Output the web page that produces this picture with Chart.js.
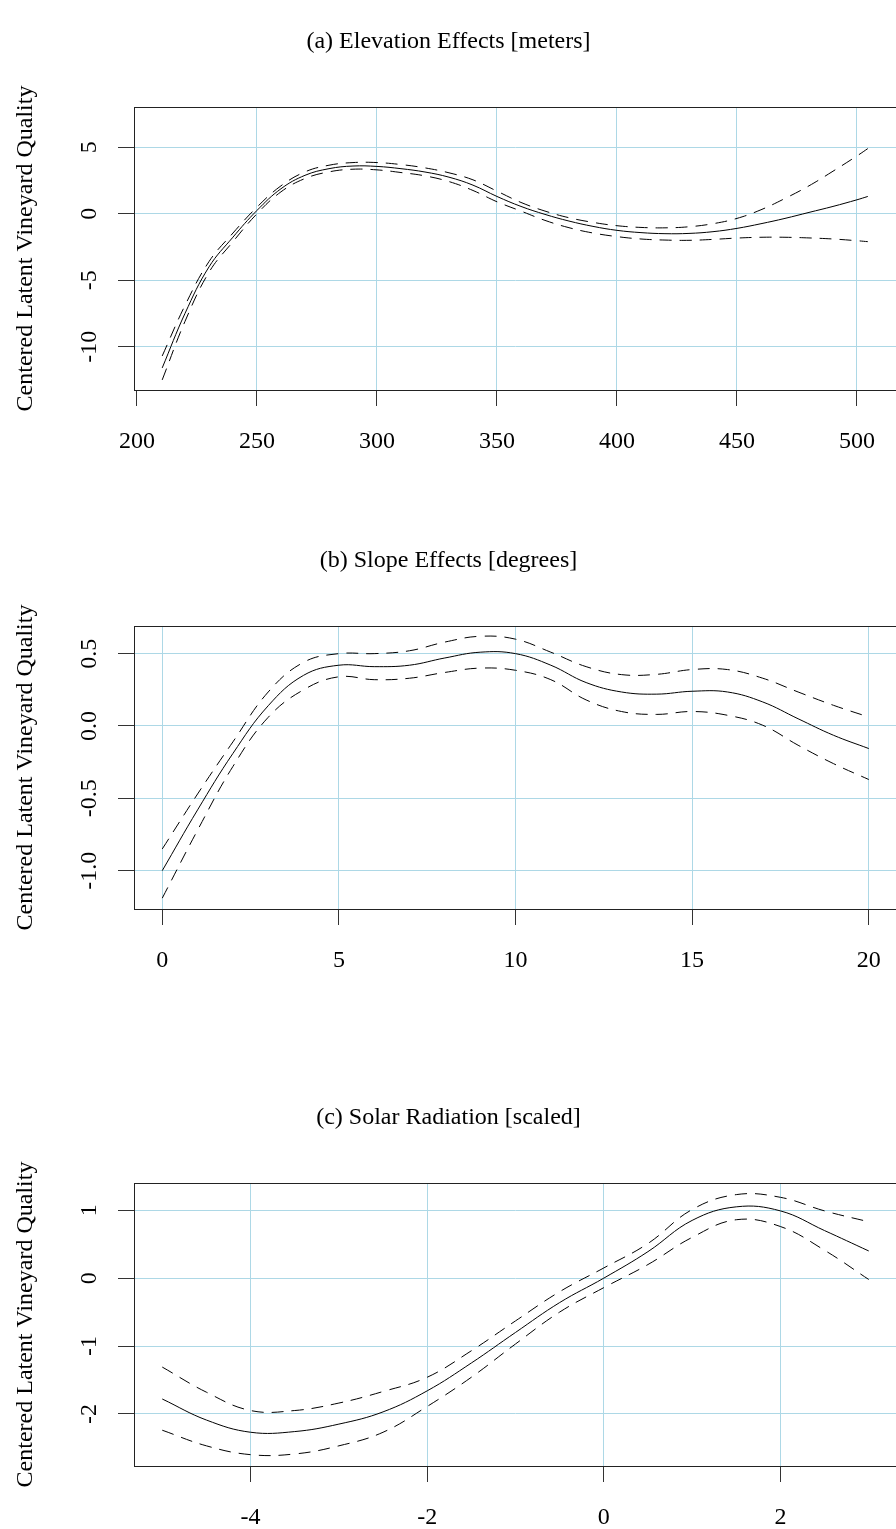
<!DOCTYPE html>
<html>
<head>
<meta charset="utf-8">
<script src="https://cdn.jsdelivr.net/npm/chart.js@4"></script>
<style>
  html, body { margin: 0; padding: 0; background: #fff; overflow: hidden; }
  body { width: 896px; height: 1529px; position: relative; }
  canvas { position: absolute; left: 0; }
</style>
</head>
<body>
<canvas id="elevChart" width="912" height="433" style="top:27px"></canvas>
<canvas id="slopeChart" width="912" height="433" style="top:546px"></canvas>
<canvas id="solarChart" width="912" height="433" style="top:1103px"></canvas>
<script>
// --- Elevation (meters) ---
const elevX = [210.5, 220, 230, 240, 250, 260, 270, 280, 290, 300, 310, 320, 330, 340, 350,
               360, 370, 380, 390, 400, 410, 420, 430, 440, 450, 460, 470, 480, 490, 500, 504.5];
const elevFit = [-11.6, -7.5, -4.0, -1.76, 0.25, 1.88, 2.89, 3.39, 3.59, 3.56, 3.39, 3.14, 2.75, 2.15, 1.3,
                 0.55, -0.05, -0.55, -0.95, -1.25, -1.42, -1.5, -1.48, -1.35, -1.1, -0.75, -0.35, 0.1, 0.55, 1.05, 1.3];
const elevUpper = [-10.7, -6.9, -3.6, -1.45, 0.5, 2.1, 3.15, 3.65, 3.85, 3.85, 3.7, 3.45, 3.08, 2.55, 1.7,
                   0.85, 0.2, -0.3, -0.65, -0.9, -1.03, -1.06, -0.98, -0.75, -0.35, 0.3, 1.15, 2.1, 3.2, 4.35, 4.9];
const elevLower = [-12.5, -8.1, -4.4, -2.1, 0.0, 1.65, 2.65, 3.15, 3.35, 3.3, 3.1, 2.85, 2.42, 1.75, 0.9,
                   0.2, -0.5, -1.05, -1.45, -1.72, -1.9, -1.98, -2.0, -1.93, -1.83, -1.77, -1.77, -1.82, -1.9, -2.03, -2.1];
const elevXTicks = [200, 250, 300, 350, 400, 450, 500];
const elevXLabels = ['200', '250', '300', '350', '400', '450', '500'];
const elevXGrid = [250, 300, 350, 400, 450, 500];
const elevYTicks = [-10, -5, 0, 5];
const elevYLabels = ['-10', '-5', '0', '5'];

// --- Slope (degrees) ---
const slopeX = [0, 1, 2, 3, 4, 5, 6, 7, 8, 9, 10, 11, 12, 13, 14, 15, 16, 17, 18, 19, 20];
const slopeFit = [-1.0, -0.58, -0.19, 0.14, 0.35, 0.42, 0.41, 0.42, 0.47, 0.51, 0.50,
                  0.42, 0.30, 0.235, 0.22, 0.24, 0.235, 0.166, 0.05, -0.064, -0.156];
const slopeUpper = [-0.85, -0.47, -0.11, 0.235, 0.44, 0.50, 0.50, 0.52, 0.58, 0.62, 0.60,
                    0.51, 0.41, 0.355, 0.357, 0.39, 0.39, 0.33, 0.235, 0.143, 0.062];
const slopeLower = [-1.19, -0.72, -0.28, 0.06, 0.25, 0.34, 0.32, 0.33, 0.37, 0.40, 0.385,
                    0.32, 0.18, 0.10, 0.08, 0.10, 0.074, 0.005, -0.133, -0.26, -0.37];
const slopeXTicks = [0, 5, 10, 15, 20];
const slopeXLabels = ['0', '5', '10', '15', '20'];
const slopeXGrid = [0, 5, 10, 15, 20];
const slopeYTicks = [-1.0, -0.5, 0.0, 0.5];
const slopeYLabels = ['-1.0', '-0.5', '0.0', '0.5'];

// --- Solar radiation (scaled) ---
const solarX = [-5, -4.5, -4, -3.5, -3, -2.5, -2, -1.5, -1, -0.5, 0, 0.5, 1, 1.5, 2, 2.5, 3];
const solarFit = [-1.78, -2.09, -2.27, -2.26, -2.15, -1.97, -1.66, -1.25, -0.8, -0.36, 0.0, 0.39, 0.85, 1.05, 0.99, 0.70, 0.40];
const solarUpper = [-1.31, -1.68, -1.95, -1.95, -1.84, -1.67, -1.46, -1.07, -0.63, -0.2, 0.15, 0.51, 1.01, 1.23, 1.19, 0.99, 0.83];
const solarLower = [-2.24, -2.47, -2.60, -2.59, -2.47, -2.27, -1.89, -1.46, -0.97, -0.5, -0.14, 0.2, 0.6, 0.86, 0.76, 0.41, -0.02];
const solarXTicks = [-4, -2, 0, 2];
const solarXLabels = ['-4', '-2', '0', '2'];
const solarXGrid = [-4, -2, 0, 2];
const solarYTicks = [-2, -1, 0, 1];
const solarYLabels = ['-2', '-1', '0', '1'];

const yTitle = 'Centered Latent Vineyard Quality';
const SERIF = "'Liberation Serif', 'Times New Roman', serif";
const GRID = '#add8e6';

Chart.defaults.font.family = SERIF;
Chart.defaults.font.size = 24;
Chart.defaults.color = '#000';

// box around the plot region + rotated y tick labels and y title
const framePlugin = {
    id: 'frame',
    afterDatasetsDraw(chart) {
        const { ctx, chartArea: a } = chart;
        ctx.save();
        ctx.strokeStyle = '#222';
        ctx.lineWidth = 1;
        ctx.strokeRect(Math.round(a.left) + 0.5, Math.round(a.top) + 0.5,
                       Math.round(a.right - a.left), Math.round(a.bottom - a.top));
        ctx.restore();
    },
    afterDraw(chart, args, opts) {
        const { ctx, chartArea: a } = chart;
        const y = chart.scales.y;
        ctx.save();
        ctx.fillStyle = '#000';
        ctx.font = '24px ' + SERIF;
        ctx.textAlign = 'center';
        ctx.textBaseline = 'alphabetic';
        opts.ticks.forEach((v, i) => {
            ctx.save();
            ctx.translate(96, y.getPixelForValue(v));
            ctx.rotate(-Math.PI / 2);
            ctx.fillText(opts.labels[i], 0, 0);
            ctx.restore();
        });
        ctx.translate(32, (a.top + a.bottom) / 2);
        ctx.rotate(-Math.PI / 2);
        ctx.fillText(yTitle, 0, 0);
        ctx.restore();
    }
};

function curve(xs, ys, dashed) {
    return {
        data: xs.map((x, i) => ({ x: x, y: ys[i] })),
        borderColor: '#000',
        borderWidth: 1,
        borderDash: dashed ? [12, 8] : [],
        pointRadius: 0,
        fill: false,
        tension: 0.4
    };
}

function makePanel(id, title, p) {
    return new Chart(document.getElementById(id), {
        type: 'line',
        data: {
            datasets: [
                curve(p.x, p.upper, true),
                curve(p.x, p.lower, true),
                curve(p.x, p.fit, false)
            ]
        },
        options: {
            responsive: false,
            animation: false,
            devicePixelRatio: 1,
            layout: { padding: { left: 0, right: 15, top: 0, bottom: 0 } },
            plugins: {
                legend: { display: false },
                tooltip: { enabled: false },
                title: {
                    display: true,
                    text: title,
                    color: '#000',
                    font: { family: SERIF, size: 24, weight: 'normal', lineHeight: 1.2 },
                    padding: { top: 0, bottom: 51.2 }
                },
                frame: { ticks: p.yTicks, labels: p.yLabels }
            },
            scales: {
                x: {
                    type: 'linear',
                    min: p.xMin, max: p.xMax,
                    afterBuildTicks: s => { s.ticks = p.xTicks.map(v => ({ value: v })); },
                    afterFit: s => { s.height = 70; },
                    border: { display: false },
                    grid: {
                        color: c => p.xGrid.includes(c.tick && c.tick.value) ? GRID : 'rgba(0,0,0,0)',
                        lineWidth: 1, tickLength: 16, tickColor: '#333', tickWidth: 1
                    },
                    ticks: {
                        padding: 21,
                        maxRotation: 0,
                        autoSkip: false,
                        color: '#000',
                        callback: (v, i) => p.xLabels[i]
                    }
                },
                y: {
                    type: 'linear',
                    min: p.yMin, max: p.yMax,
                    afterBuildTicks: s => { s.ticks = p.yTicks.map(v => ({ value: v })); },
                    afterFit: s => { s.width = 134; },
                    border: { display: false },
                    grid: { color: GRID, lineWidth: 1, tickLength: 16, tickColor: '#333', tickWidth: 1 },
                    ticks: { display: false }
                }
            }
        },
        plugins: [framePlugin]
    });
}

makePanel('elevChart', '(a) Elevation Effects [meters]', {
    x: elevX, fit: elevFit, upper: elevUpper, lower: elevLower,
    xTicks: elevXTicks, xLabels: elevXLabels, xGrid: elevXGrid, yTicks: elevYTicks, yLabels: elevYLabels,
    xMin: 198.75, xMax: 516.67, yMin: -13.26, yMax: 8.03
});

makePanel('slopeChart', '(b) Slope Effects [degrees]', {
    x: slopeX, fit: slopeFit, upper: slopeUpper, lower: slopeLower,
    xTicks: slopeXTicks, xLabels: slopeXLabels, xGrid: slopeXGrid, yTicks: slopeYTicks, yLabels: slopeYLabels,
    xMin: -0.8, xMax: 20.8, yMin: -1.265, yMax: 0.691
});

makePanel('solarChart', '(c) Solar Radiation [scaled]', {
    x: solarX, fit: solarFit, upper: solarUpper, lower: solarLower,
    xTicks: solarXTicks, xLabels: solarXLabels, xGrid: solarXGrid, yTicks: solarYTicks, yLabels: solarYLabels,
    xMin: -5.32, xMax: 3.32, yMin: -2.767, yMax: 1.401
});
</script>
</body>
</html>
